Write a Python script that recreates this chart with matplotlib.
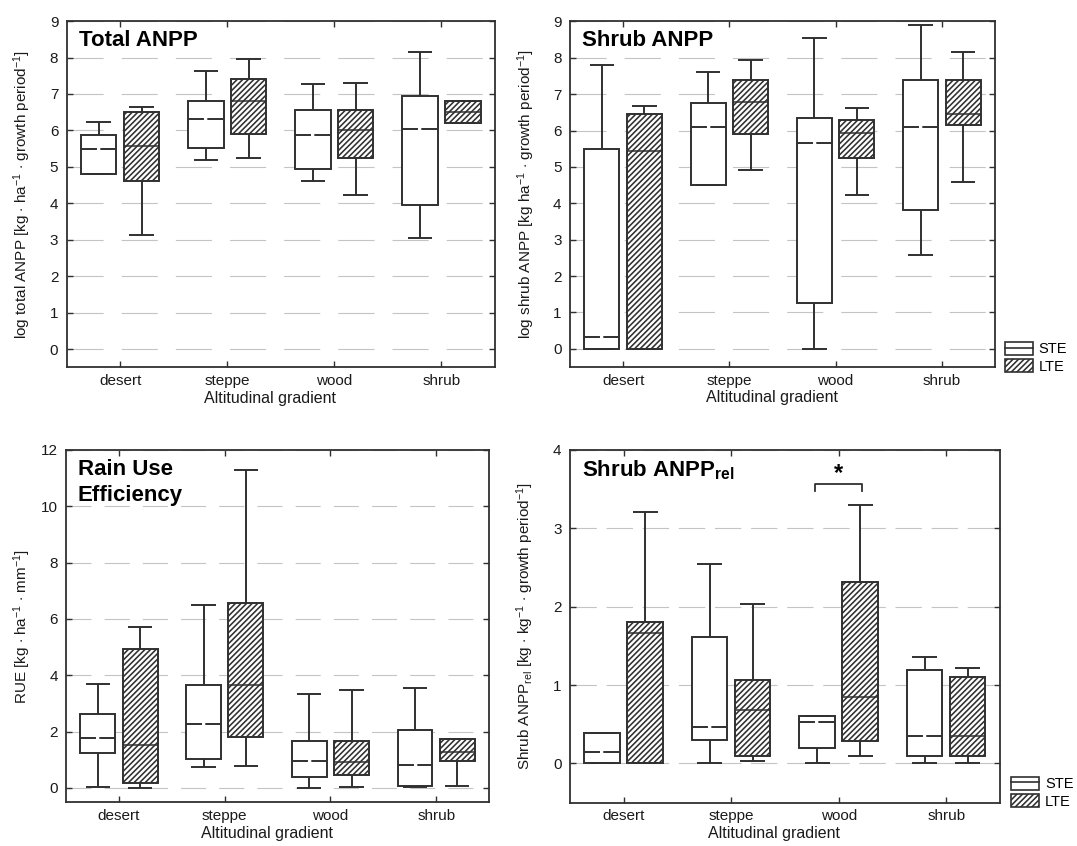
import matplotlib
matplotlib.use('Agg')
import matplotlib.pyplot as plt
from matplotlib.patches import Patch
from matplotlib.lines import Line2D
from matplotlib.legend_handler import HandlerTuple

plt.rcParams['font.family'] = ['Liberation Sans', 'DejaVu Sans']
plt.rcParams['mathtext.fontset'] = 'custom'
plt.rcParams['mathtext.rm'] = 'Liberation Sans'
plt.rcParams['mathtext.it'] = 'Liberation Sans:italic'
plt.rcParams['mathtext.bf'] = 'Liberation Sans:bold'
plt.rcParams['lines.scale_dashes'] = False
plt.rcParams['hatch.linewidth'] = 1.15
plt.rcParams['hatch.color'] = '#333333'

# ---------------- data ----------------
categories = ['desert', 'steppe', 'wood', 'shrub']
groups = ['STE', 'LTE']

# five-number summaries per category: [whislo, q1, median, q3, whishi]
total_ste = [[4.80, 4.80, 5.50, 5.88, 6.23],
             [5.19, 5.53, 6.32, 6.82, 7.64],
             [4.60, 4.94, 5.87, 6.56, 7.26],
             [3.04, 3.94, 6.05, 6.94, 8.16]]
total_lte = [[3.12, 4.62, 5.56, 6.51, 6.64],
             [5.25, 5.90, 6.82, 7.40, 7.95],
             [4.22, 5.25, 6.00, 6.56, 7.29],
             [6.19, 6.19, 6.51, 6.81, 6.81]]

shrub_ste = [[0.00, 0.00, 0.33, 5.49, 7.79],
             [4.50, 4.50, 6.09, 6.75, 7.60],
             [0.00, 1.27, 5.65, 6.34, 8.55],
             [2.58, 3.83, 6.10, 7.38, 8.89]]
shrub_lte = [[0.00, 0.00, 5.43, 6.47, 6.69],
             [4.91, 5.91, 6.80, 7.38, 7.93],
             [4.22, 5.26, 5.94, 6.30, 6.61],
             [4.60, 6.15, 6.46, 7.38, 8.15]]

rue_ste = [[0.02, 1.24, 1.79, 2.61, 3.68],
           [0.75, 1.01, 2.26, 3.64, 6.48],
           [0.00, 0.38, 0.96, 1.67, 3.33],
           [0.03, 0.07, 0.80, 2.04, 3.54]]
rue_lte = [[0.00, 0.16, 1.51, 4.93, 5.73],
           [0.79, 1.81, 3.65, 6.58, 11.30],
           [0.02, 0.47, 0.92, 1.67, 3.47],
           [0.08, 0.94, 1.29, 1.72, 1.72]]

rel_ste = [[0.00, 0.00, 0.15, 0.39, 0.39],
           [0.00, 0.30, 0.47, 1.61, 2.54],
           [0.00, 0.20, 0.53, 0.60, 0.60],
           [0.00, 0.10, 0.35, 1.19, 1.36]]
rel_lte = [[0.00, 0.00, 1.67, 1.80, 3.21],
           [0.03, 0.10, 0.68, 1.07, 2.03],
           [0.10, 0.28, 0.85, 2.32, 3.30],
           [0.00, 0.10, 0.35, 1.10, 1.22]]

# significance annotation (Shrub ANPP_rel, wood)
sig_category = 2
sig_bracket_y = 3.57
sig_bracket_drop = 0.09
sig_star_y = 3.70

EC = '#303030'
TXT = '#1a1a1a'
OFF = 0.2
W = 0.33
CAPW = 0.23
HATCH = '//////'

fig = plt.figure(figsize=(10.77, 8.46), dpi=100)


def make_stats(rows):
    return [dict(whislo=r[0], q1=r[1], med=r[2], q3=r[3], whishi=r[4], fliers=[])
            for r in rows]


def panel(rect, ste, lte, ylim, yticks, ylabel, title, grid_dash, title_kw=None):
    ax = fig.add_axes(rect)
    n = len(categories)
    common = dict(widths=W, capwidths=CAPW, patch_artist=True, showfliers=False,
                  whiskerprops=dict(color=EC, lw=1.4, solid_capstyle='butt'),
                  capprops=dict(color=EC, lw=1.4, solid_capstyle='butt'))
    ax.bxp(make_stats(ste), positions=[i - OFF for i in range(n)],
           boxprops=dict(facecolor='white', edgecolor=EC, lw=1.4),
           medianprops=dict(color=EC, lw=1.4, linestyle=(0, (11.5, 2.4, 11.5, 300))),
           **common)
    ax.bxp(make_stats(lte), positions=[i + OFF for i in range(n)],
           boxprops=dict(facecolor='white', edgecolor=EC, lw=1.4, hatch=HATCH),
           medianprops=dict(color=EC, lw=1.1),
           **common)
    ax.set_xlim(-0.5, n - 0.5)
    ax.set_ylim(*ylim)
    ax.set_yticks(yticks)
    ax.set_xticks(range(n))
    ax.set_xticklabels(categories)
    ax.yaxis.grid(True, color='#c4c4c4', lw=0.8, linestyle=(0, grid_dash))
    ax.xaxis.grid(False)
    ax.set_axisbelow(True)
    for s in ax.spines.values():
        s.set_color(EC)
        s.set_linewidth(1.3)
    ax.tick_params(direction='in', top=True, right=True, length=4, width=1.0,
                   color=EC, labelcolor=TXT, labelsize=11)
    ax.tick_params(axis='y', pad=6)
    ax.tick_params(axis='x', pad=5)
    ax.set_ylabel(ylabel, fontsize=11, color=TXT)
    ax.yaxis.set_label_coords(-0.078, 0.5)
    ax.set_xlabel('Altitudinal gradient', fontsize=11.5, color=TXT)
    ax.xaxis.set_label_coords(0.475, -0.068)
    kw = dict(transform=ax.transAxes, fontsize=16, fontweight='bold', color='black',
              ha='left', va='top')
    if title_kw:
        kw.update(title_kw)
    ax.text(0.028, 0.975, title, **kw)
    return ax


ax1 = panel([0.0619, 0.5658, 0.3977, 0.4093], total_ste, total_lte, (-0.5, 9), range(0, 10),
            r'log total ANPP [kg $\cdot$ ha$^{\mathregular{-1}}$ $\cdot$ growth period$^{\mathregular{-1}}$]',
            'Total ANPP', (26, 13))
ax2 = panel([0.5292, 0.5662, 0.3946, 0.4084], shrub_ste, shrub_lte, (-0.5, 9), range(0, 10),
            r'log shrub ANPP [kg ha$^{\mathregular{-1}}$ $\cdot$ growth period$^{\mathregular{-1}}$]',
            'Shrub ANPP', (26, 13))
ax3 = panel([0.0613, 0.0520, 0.3928, 0.4161], rue_ste, rue_lte, (-0.5, 12), range(0, 13, 2),
            r'RUE [kg $\cdot$ ha$^{\mathregular{-1}}$ $\cdot$ mm$^{\mathregular{-1}}$]',
            'Rain Use\nEfficiency', (18, 9.5), title_kw=dict(linespacing=1.35))
ax4 = panel([0.5292, 0.0514, 0.3993, 0.4167], rel_ste, rel_lte, (-0.5, 4), range(0, 5),
            r'Shrub ANPP$_{\mathregular{rel}}$ [kg $\cdot$ kg$^{\mathregular{-1}}$ $\cdot$ growth period$^{\mathregular{-1}}$]',
            r'Shrub ANPP$_{\mathbf{rel}}$', (19, 7))

# significance bracket
xl = sig_category - OFF - 0.02
xr = sig_category + OFF + 0.02
ax4.plot([xl, xl, xr, xr],
         [sig_bracket_y - sig_bracket_drop, sig_bracket_y, sig_bracket_y, sig_bracket_y - sig_bracket_drop],
         color=EC, lw=1.3)
ax4.text(sig_category, sig_star_y, '*', ha='center', va='center', fontsize=17,
         fontweight='bold', color='black')

# legends
ste_handle = (Patch(facecolor='white', edgecolor=EC, lw=1.2), Line2D([], [], color=EC, lw=1.2))
lte_handle = Patch(facecolor='white', edgecolor=EC, lw=1.2, hatch=HATCH)
for anchor in [(0.933, 0.596), (0.939, 0.082)]:
    fig.legend([ste_handle, lte_handle], groups,
               handler_map={tuple: HandlerTuple(ndivide=1)},
               loc='upper left', bbox_to_anchor=anchor, frameon=False,
               fontsize=10.5, handlelength=1.9, handleheight=1.0,
               labelspacing=0.2, handletextpad=0.4, borderpad=0, borderaxespad=0)

fig.savefig('out.png', dpi=100)
